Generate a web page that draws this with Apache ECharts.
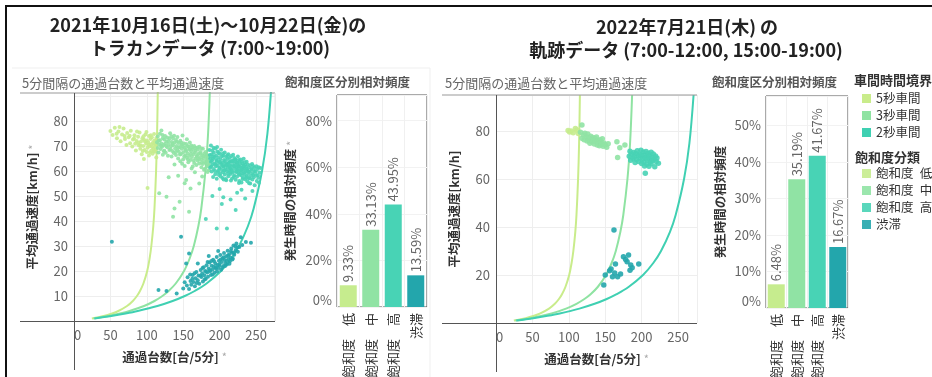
<!DOCTYPE html>
<html><head><meta charset="utf-8">
<script src="https://cdn.jsdelivr.net/npm/echarts@6/dist/echarts.min.js"></script>
<style>html,body{margin:0;padding:0;background:#fff}#c{width:932px;height:377px}</style>
</head><body><div id="c"></div>
<script>
// ---------- data ----------
const categories = ['飽和度\u2002低', '飽和度\u2002中', '飽和度\u2002高', '渋滞'];
const leftShares = [9.33, 33.13, 43.95, 13.59];
const rightShares = [6.48, 35.19, 41.67, 16.67];
const headwayNames = ['5秒車間', '3秒車間', '2秒車間'];
// boundary curves: speed [km/h] and flow [台/5分]
const curveSpeeds = [1, 2, 3, 4, 6, 8, 10, 12, 15, 20, 25, 30, 38, 45, 60, 75, 95];
const curve5s = [24.5, 40.8, 52.3, 60.9, 72.8, 80.8, 86.4, 90.6, 95.3, 100.5, 103.8, 106.2, 108.9, 110.5, 112.7, 114.1, 115.2];
const curve3s = [26.7, 47.2, 63.3, 76.3, 96.2, 110.5, 121.4, 129.9, 139.7, 151.1, 158.8, 164.5, 170.8, 174.8, 180.5, 184.1, 186.9];
const curve2s = [28.0, 51.2, 70.8, 87.5, 114.5, 135.4, 152.1, 165.7, 182.0, 201.9, 216.0, 226.6, 238.9, 246.7, 258.2, 265.6, 271.3];

// left scatter (traffic counter) [flow, speed]
const leftLow = [[50,76.0],[53,74.4],[56,77.3],[59,73.1],[61,75.8],[64,71.9],[66,74.6],[68,77.0],[70,72.8],[72,70.4],[73,75.2],[75,73.5],[77,71.1],[78,76.1],[80,69.8],[81,72.6],[83,74.3],[84,70.9],[85,68.2],[86,72.0],[88,73.7],[89,70.3],[90,75.4],[91,68.9],[92,71.8],[93,66.7],[94,73.1],[95,70.0],[96,72.5],[97,68.4],[98,74.6],[99,70.9],[100,67.6],[100,72.2],[101,69.3],[102,71.4],[103,74.0],[103,66.2],[104,69.9],[105,72.8],[106,68.1],[106,70.6],[107,73.5],[108,71.2],[108,66.9],[109,69.0],[110,72.1],[110,74.8],[111,67.7],[111,70.4],[112,71.9],[112,68.6],[113,73.2],[113,65.4],[101,53.2],[96,64.8],
  [86.5,75.8],[91.5,70.2],[94.5,68.0],[97.5,71.8],[99.5,75.6],[102.5,70.5],[104.5,67.4],[105.5,74.3],[107.5,69.6],[109.5,67.9],[110.5,71.0],[112.5,70.0],[113.5,72.4],[95.5,73.9],[88.5,71.3],[82.5,73.0],[76.5,74.1],[69.5,74.0],[62.5,77.6],[58.5,74.9]];
const leftMid = [[114,71.5],[115,69.2],[115,73.8],[116,67.4],[117,70.6],[118,74.9],[118,72.3],[119,68.8],[120,71.0],[120,76.2],[121,69.7],[122,73.1],[122,66.5],[123,70.4],[124,72.6],[124,68.1],[125,74.0],[125,70.9],[126,67.3],[127,71.8],[128,69.5],[128,73.4],[129,66.1],[130,70.7],[131,72.9],[131,68.4],[132,75.1],[133,69.9],[134,71.6],[134,65.8],[135,68.0],[136,73.0],[136,70.3],[137,67.2],[138,71.4],[138,62.6],[139,69.1],[140,72.4],[140,66.4],[141,70.0],[142,68.3],[142,73.6],[143,65.0],[144,71.2],[144,67.7],[145,69.6],[146,63.9],[146,72.1],[147,66.8],[148,70.5],[148,68.9],[149,74.2],[150,64.7],[150,67.5],[151,71.0],[152,69.3],[152,62.0],[153,66.2],[154,70.8],[154,68.0],[155,65.3],[155,72.7],[156,67.1],[157,69.8],[157,63.5],[158,66.0],[159,71.4],[159,68.6],[160,64.4],[161,67.9],[161,70.2],[162,65.6],[163,68.8],[163,61.8],[164,66.7],[165,70.0],[165,63.2],[166,67.4],[167,65.0],[167,69.2],[168,62.4],[169,66.3],[170,68.5],[170,64.1],[171,66.9],[172,63.0],[172,69.7],[173,65.4],[174,67.6],[175,61.5],[175,64.6],[176,66.3],[177,68.9],[177,62.8],[178,65.1],[179,63.7],[179,67.0],[180,60.9],[181,65.8],[181,63.2],[182,66.4],[183,61.9],[183,64.5],[184,62.7],[185,65.5],[185,60.3],[186,63.6],[117,51.1],[127,49.7],[136,41.7],[143,58.1],[145,47.7],[152,55.1],[154,56.4],[158,43.7],[166,59.5],[160,53.0],[138,45.0],[130,57.5],[172,55.0],[176,57.8],
  [116.5,72.2],[119.5,70.1],[121.5,74.4],[123.5,67.9],[126.5,70.0],[129.5,71.9],[132.5,68.8],[135.5,70.9],[137.5,74.1],[139.5,67.6],[141.5,71.7],[143.5,69.3],[145.5,66.6],[147.5,71.3],[149.5,69.9],[151.5,65.9],[153.5,68.5],[155.5,70.0],[156.5,64.6],[158.5,68.9],[160.5,66.8],[162.5,69.5],[164.5,64.2],[166.5,68.1],[168.5,65.7],[169.5,69.4],[171.5,64.8],[173.5,67.0],[175.5,63.4],[177.5,66.0],[178.5,60.5],[180.5,67.6],[182.5,64.0],[184.5,66.1],[185.5,62.1],[174.5,69.0],[148.5,62.9],[133.5,73.9],[161.5,61.0],[183.5,59.6]];
const leftHigh = [[186,68.4],[187,65.0],[187,61.3],[188,70.2],[188,63.7],[189,66.6],[189,59.8],[190,68.1],[190,62.5],[191,64.9],[191,57.6],[192,67.3],[192,60.8],[193,65.6],[193,63.0],[194,69.0],[194,58.7],[195,61.9],[195,66.2],[196,64.0],[196,56.9],[197,67.8],[197,62.3],[198,60.1],[198,65.4],[199,63.6],[199,58.4],[200,66.9],[200,61.2],[201,64.7],[201,59.0],[202,62.8],[202,68.5],[203,60.4],[203,65.9],[204,57.2],[204,63.3],[205,61.7],[205,66.1],[205,59.5],[206,64.4],[206,62.0],[207,67.4],[207,58.6],[208,63.1],[208,60.7],[209,65.6],[209,56.3],[210,62.6],[210,59.9],[211,64.8],[211,61.4],[212,66.7],[212,57.9],[213,63.5],[213,60.2],[214,62.1],[214,65.3],[215,58.8],[215,61.0],[215,63.9],[216,60.6],[216,66.0],[217,62.4],[217,57.0],[218,64.1],[218,59.4],[219,61.8],[219,63.9],[220,58.2],[220,65.2],[221,60.9],[221,62.9],[222,56.5],[222,64.5],[223,59.6],[223,61.5],[224,63.3],[224,57.8],[225,60.3],[225,62.2],[225,65.8],[226,58.9],[226,61.9],[227,63.8],[227,56.0],[228,60.0],[228,62.7],[229,58.3],[229,64.6],[230,61.2],[230,55.4],[231,59.1],[231,63.0],[232,60.6],[232,57.4],[233,62.1],[233,64.9],[234,58.6],[234,60.9],[235,56.7],[235,62.5],[236,59.8],[236,61.6],[237,57.9],[237,63.7],[238,60.2],[238,55.9],[239,58.8],[240,61.4],[240,57.2],[241,59.6],[242,62.3],[242,55.0],[243,58.1],[244,60.5],[245,56.6],[245,59.1],[246,62.0],[247,57.5],[248,54.3],[248,60.0],[250,58.4],[251,56.0],[252,60.8],[253,57.3],[255,59.4],[256,61.2],[254,55.3],[181,40.8],[196,37.0],[203,46.8],[210,37.0],[222,44.4],[215,48.6],[235,49.0],[205,49.5],[230,52.5],[245,52.0],[200,52.8],[190,50.0],[224,51.3],
  [186.5,66.4],[188.5,61.8],[190.5,65.7],[191.5,69.3],[193.5,60.0],[195.5,64.4],[197.5,59.6],[198.5,67.2],[200.5,63.5],[201.5,57.8],[203.5,62.1],[204.5,67.0],[206.5,60.3],[207.5,64.0],[208.5,56.8],[209.5,62.3],[210.5,66.3],[211.5,58.9],[212.5,63.2],[213.5,61.6],[214.5,59.5],[216.5,63.8],[217.5,60.0],[218.5,66.5],[219.5,57.6],[220.5,62.0],[221.5,64.6],[222.5,59.8],[223.5,63.3],[224.5,60.8],[226.5,64.4],[227.5,58.7],[228.5,61.4],[229.5,60.2],[230.5,63.7],[231.5,56.8],[232.5,61.9],[233.5,59.4],[234.5,63.5],[236.5,57.3],[237.5,60.8],[238.5,62.6],[239.5,59.9],[241.5,57.0],[243.5,60.9],[244.5,62.8],[246.5,58.4],[247.5,61.3],[249.5,59.8],[250.5,61.9],[252.5,58.3],[253.5,61.5],[240.5,55.1],[226.5,55.2],[215.5,56.2],[205.5,56.6],[199.5,61.2],[194.5,62.7],[189.5,64.1],[196.5,69.6]];
const leftJam = [[52,31.7],[147,33.7],[116,12.4],[127,12.0],[141,11.0],[150,13.0],[152,15.5],[155,14.2],[156,17.5],[158,12.8],[160,16.0],[161,14.5],[163,18.4],[164,15.6],[166,13.9],[167,17.1],[168,19.6],[170,16.3],[171,18.2],[172,14.9],[174,20.4],[175,17.6],[176,19.0],[177,15.8],[178,21.5],[179,18.3],[180,20.0],[181,16.9],[182,22.3],[183,19.4],[184,17.7],[185,21.0],[186,23.4],[187,19.9],[188,18.4],[189,22.1],[190,20.6],[191,24.5],[192,21.7],[193,19.3],[194,23.0],[195,20.9],[196,25.6],[197,22.4],[198,21.2],[199,24.1],[200,22.8],[201,26.4],[202,20.5],[203,23.6],[204,25.0],[205,22.0],[206,27.2],[207,24.4],[208,23.1],[209,25.9],[210,22.6],[211,28.1],[212,24.8],[213,26.7],[214,23.9],[215,25.4],[216,29.0],[217,27.3],[218,25.0],[219,30.2],[220,26.5],[222,28.4],[223,31.0],[225,27.7],[227,29.6],[229,33.5],[231,30.4],[236,31.6],[243,31.3],[198,28.0],[185,26.0],[170,23.0],[154,23.0],[158,27.0],
  [173.5,18.1],[176.5,21.2],[179.5,16.6],[181.5,19.8],[183.5,23.6],[186.5,20.3],[188.5,24.0],[190.5,18.6],[192.5,23.9],[194.5,21.4],[196.5,19.8],[199.5,22.2],[201.5,24.6],[203.5,21.4],[205.5,25.5],[207.5,22.0],[209.5,24.0],[211.5,26.2],[213.5,22.9],[215.5,27.9],[217.5,24.6],[219.5,27.4],[221.5,29.9],[224.5,29.5],[162.5,16.9],[165.5,19.1],[168.5,15.2],[159.5,18.6]];

// right scatter (trajectory data) [flow, speed]
const rightLow = [[99,80.2],[101,79.6],[103,80.0],[106,79.3],[109,81.0],[111,80.4],[113,79.0]];
const rightMid = [[116,79.5],[118,82.5],[118,77.0],[120,78.3],[121,76.4],[122,79.1],[124,77.6],[125,75.8],[126,78.7],[127,77.1],[128,76.0],[129,74.9],[130,77.8],[131,76.5],[132,75.4],[133,77.3],[134,76.2],[135,74.6],[136,76.9],[137,75.7],[138,77.5],[139,74.2],[140,76.0],[141,75.1],[142,73.9],[143,76.4],[144,75.3],[145,74.5],[146,76.8],[147,73.6],[148,75.0],[150,74.3],[152,73.2],[154,74.7],[166,75.5],[167,69.0],[177,74.2],[170,73.0]];
const rightHigh = [[183,69.5],[184,71.6],[185,67.8],[186,70.3],[188,68.6],[189,71.0],[190,69.2],[191,66.9],[192,70.6],[193,68.1],[194,71.8],[195,69.7],[196,67.3],[197,70.1],[198,68.8],[199,72.0],[200,66.5],[200,69.9],[201,68.2],[202,71.3],[203,67.0],[204,70.0],[204,65.4],[205,62.4],[205,68.6],[206,71.5],[207,69.4],[207,66.1],[208,67.9],[209,70.7],[210,68.5],[210,65.3],[211,69.8],[212,67.2],[213,71.1],[213,66.4],[214,69.0],[215,67.7],[216,70.4],[217,68.2],[218,65.1],[219,69.6],[220,67.3],[221,68.8],[223,66.6]];
const rightJam = [[162,38.8],[175,27.6],[182,28.3],[180,25.5],[185,24.2],[196,24.6],[184,22.0],[164,24.6],[156,21.8],[150,20.0],[160,19.3],[167,19.3],[171,20.4],[148,15.8],[163,20.8],[187,23.0],[178,26.5],[158,22.5]];

// ---------- styling ----------
const FONT = '"Noto Sans CJK JP","Noto Sans",sans-serif';
const catColors = ['#c6ec8e', '#90e3a4', '#48d3b5', '#23a6ac'];
const lineColors = ['#c9ec8b', '#8fe3a2', '#3fd0b2'];

const chart = echarts.init(document.getElementById('c'), null, {renderer: 'canvas'});

function curvePairs(flows) { return flows.map((f, i) => [f, curveSpeeds[i]]); }
const curves = [curve5s, curve3s, curve2s];

const scatterGrids = [
  {left: 74, top: 93, width: 201, height: 228, ymax: 91.2, yint: 10, ylabMax: 80, data: [leftLow, leftMid, leftHigh, leftJam], size: 4, star: true},
  {left: 496, top: 95, width: 201, height: 228, ymax: 95, yint: 20, ylabMax: 80, data: [rightLow, rightMid, rightHigh, rightJam], size: 5.5, star: false}
];
const barGrids = [
  {left: 337, top: 95, width: 90, height: 212, ymax: 91, yint: 20, data: leftShares, star: true},
  {left: 766, top: 96, width: 82, height: 212, ymax: 58, yint: 10, data: rightShares, star: false}
];

const grid = [], xAxis = [], yAxis = [], series = [];
const nameStyle = {fontFamily: FONT, fontSize: 12.5, fontWeight: 'bold', color: '#333', rich: {s: {color: '#aaa', fontSize: 11, fontWeight: 'normal'}}};
const labStyle = {fontFamily: FONT, fontSize: 13, color: '#666'};

scatterGrids.forEach((g, gi) => {
  grid.push({left: g.left, top: g.top, width: g.width, height: g.height, containLabel: false, outerBoundsMode: 'none'});
  xAxis.push({
    gridIndex: gi, type: 'value', min: 0, max: 276, interval: 50,
    axisLine: {show: false}, axisTick: {show: false},
    splitLine: {lineStyle: {color: '#eeeeee'}},
    axisLabel: Object.assign({}, labStyle, {margin: 8, alignMinLabel: 'left', formatter: v => (v % 50 === 0 ? String(v) : '')}),
    name: '通過台数[台/5分] {s|*}', nameLocation: 'middle', nameGap: 30, nameTextStyle: nameStyle
  });
  yAxis.push({
    gridIndex: gi, type: 'value', min: 0, max: g.ymax, interval: g.yint,
    axisLine: {show: false}, axisTick: {show: false},
    splitLine: {lineStyle: {color: '#eeeeee'}},
    axisLabel: Object.assign({}, labStyle, {margin: 6, formatter: v => (v > 0 && v <= g.ylabMax ? String(v) : '')}),
    name: g.star ? '平均通過速度[km/h] {s|*}' : '平均通過速度[km/h]', nameLocation: 'middle', nameGap: 35, nameTextStyle: nameStyle
  });
  curves.forEach((c, ci) => {
    series.push({
      name: headwayNames[ci], type: 'line', xAxisIndex: gi, yAxisIndex: gi,
      data: curvePairs(c), smooth: 0.35, symbol: 'none', clip: true, z: 2,
      lineStyle: {color: lineColors[ci], width: 2}, itemStyle: {color: lineColors[ci]}
    });
  });
  g.data.forEach((d, ci) => {
    series.push({
      name: categories[ci], type: 'scatter', xAxisIndex: gi, yAxisIndex: gi,
      data: d, symbolSize: g.size, z: 3,
      itemStyle: {color: catColors[ci], opacity: 0.9}
    });
  });
});

barGrids.forEach((g, bi) => {
  const gi = grid.length;
  grid.push({left: g.left, top: g.top, width: g.width, height: g.height, show: true, borderColor: '#555', borderWidth: 1, containLabel: false, outerBoundsMode: 'none'});
  xAxis.push({
    gridIndex: gi, type: 'category', data: categories,
    axisLine: {show: false}, axisTick: {show: false},
    splitLine: {show: true, lineStyle: {color: '#f0f0f0'}},
    axisLabel: {fontFamily: FONT, fontSize: 13, color: '#333', rotate: 90, margin: 6, interval: 0,
      formatter: v => v.replace('\u2002', '\u3000')}
  });
  yAxis.push({
    gridIndex: gi, type: 'value', min: 0, max: g.ymax, interval: g.yint,
    axisLine: {show: false}, axisTick: {show: false},
    splitLine: {lineStyle: {color: '#f2f2f2'}},
    axisLabel: Object.assign({}, labStyle, {margin: 5, formatter: v => (v <= g.ymax - 5 ? v + '%' : ''), verticalAlignMinLabel: 'bottom'}),
    name: g.star ? '発生時間の相対頻度 {s|*}' : '発生時間の相対頻度', nameLocation: 'middle', nameGap: 40, nameTextStyle: nameStyle
  });
  series.push({
    type: 'bar', xAxisIndex: gi, yAxisIndex: gi, data: g.data, barWidth: 17,
    itemStyle: {color: p => catColors[p.dataIndex]},
    label: {show: true, position: 'top', rotate: 90, align: 'left', verticalAlign: 'middle', distance: 3,
      formatter: p => p.value.toFixed(2) + '%', fontFamily: FONT, fontSize: 13, color: '#666'}
  });
});

function line(x1, y1, x2, y2, color, w) {
  return {type: 'line', shape: {x1, y1, x2, y2}, style: {stroke: color, lineWidth: w || 1}, z: 100, silent: true};
}
function text(x, y, t, size, weight, color, align) {
  return {type: 'text', x, y, style: {text: t, fontFamily: FONT, fontSize: size, fontWeight: weight, fill: color, align: align || 'left', verticalAlign: 'middle'}, z: 100, silent: true};
}

const graphic = [
  line(6, 5, 6, 377, '#111', 2),
  line(5, 6, 932, 6, '#111', 2),
  line(12, 68, 430, 68, '#efefef', 1),
  line(430, 68, 430, 377, '#efefef', 1),
  text(208, 25, '2021年10月16日(土)～10月22日(金)の', 18, 'bold', '#222', 'center'),
  text(210, 48, 'トラカンデータ (7:00~19:00)', 18, 'bold', '#222', 'center'),
  text(687, 27, '2022年7月21日(木) の', 18, 'bold', '#222', 'center'),
  text(686, 50, '軌跡データ (7:00-12:00, 15:00-19:00)', 18, 'bold', '#222', 'center'),
  text(22, 83, '5分間隔の通過台数と平均通過速度', 13, 'normal', '#666'),
  text(285, 82, '飽和度区分別相対頻度', 12.5, 'bold', '#555'),
  text(445, 83, '5分間隔の通過台数と平均通過速度', 13, 'normal', '#666'),
  text(712, 82, '飽和度区分別相対頻度', 12.5, 'bold', '#555'),
  text(854, 80, '車間時間境界', 13, 'bold', '#333'),
  text(855, 157, '飽和度分類', 13, 'bold', '#333'),
  line(20, 93, 275, 93, '#999', 1),
  line(275, 93, 275, 321, '#e4e4e4', 1),
  line(20, 321.5, 275, 321.5, '#555', 1),
  line(74.5, 93, 74.5, 370, '#555', 1),
  line(442, 95, 697, 95, '#999', 1),
  line(442, 323.5, 697, 323.5, '#555', 1),
  line(496.5, 95, 496.5, 372, '#555', 1)
];

chart.setOption({
  animation: false,
  textStyle: {fontFamily: FONT},
  grid, xAxis, yAxis, series, graphic,
  legend: [
    {data: headwayNames, orient: 'vertical', left: 857, top: 87, icon: 'rect', itemWidth: 9, itemHeight: 9, itemGap: 4,
      textStyle: {fontFamily: FONT, fontSize: 12.5, color: '#333', lineHeight: 13}},
    {data: categories, orient: 'vertical', left: 857, top: 162, icon: 'rect', itemWidth: 9, itemHeight: 9, itemGap: 4,
      textStyle: {fontFamily: FONT, fontSize: 12.5, color: '#333', lineHeight: 13}}
  ]
});
</script></body></html>
